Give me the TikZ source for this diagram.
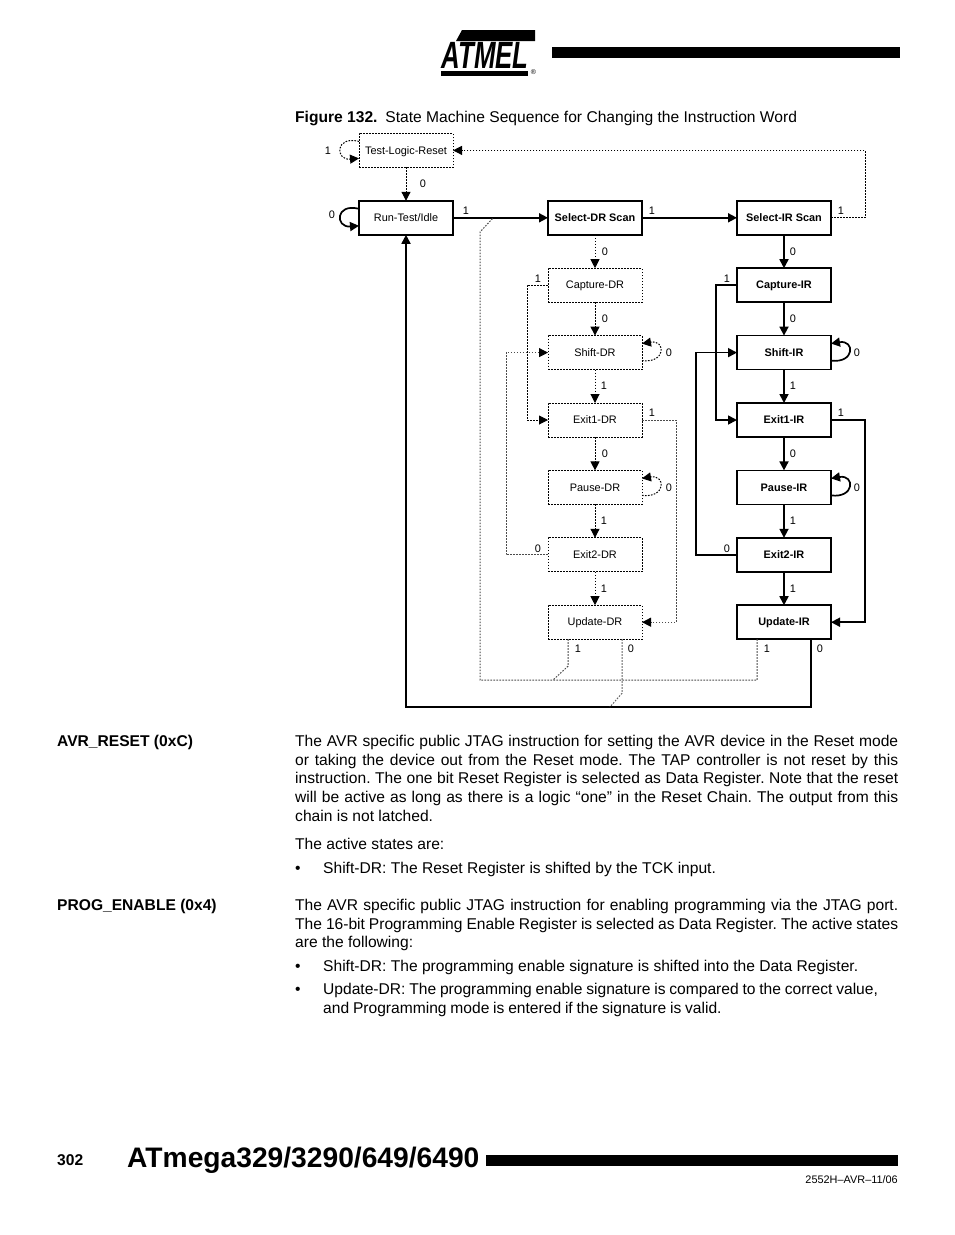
\documentclass[tikz,border=0pt]{standalone}
\usepackage{fontspec}
\setmainfont{Liberation Sans}
\usetikzlibrary{arrows.meta}
\usetikzlibrary{positioning}
\frenchspacing
\tikzstyle{dotstate} = [rectangle, minimum width=94pt, minimum height=34pt, inner sep=0pt, outer sep=0pt, text height=8pt, text depth=0.5pt, text centered, font=\fontsize{10.9}{13}\selectfont, draw=black, line width=1pt, dash pattern=on 1.6pt off 1.4pt]
\tikzstyle{boldstate} = [rectangle, minimum width=94pt, minimum height=34pt, inner sep=0pt, outer sep=0pt, text height=8pt, text depth=0.5pt, text centered, font=\fontsize{10.9}{13}\selectfont\bfseries, draw=black, line width=1.5pt]
\tikzstyle{dotline} = [line width=1pt, dash pattern=on 1.6pt off 1.4pt]
\tikzstyle{boldline} = [line width=1.7pt]
\tikzstyle{bit} = [inner sep=0pt, yshift=-0.7pt, font=\fontsize{10.9}{13}\selectfont]
\tikzstyle{para} = [anchor=north west, inner sep=0pt, text width=603pt, align=justify, font=\fontsize{15.6}{18.7}\selectfont]
\tikzstyle{oneline} = [anchor=base west, inner sep=0pt, font=\fontsize{15.6}{18.7}\selectfont]

\begin{document}
\begin{tikzpicture}[x=1pt, y=1pt, node distance=33.4pt and 95pt, >={Triangle[length=9pt,width=9pt,color=black]}]
\useasboundingbox (0,0) rectangle (954,-1235);

% page header
\fill (462,-30) -- (535,-30) -- (535,-41) -- (456,-41) -- cycle;
\node (logotext) [inner sep=0pt, xscale=0.68, font=\fontsize{38}{38}\selectfont\bfseries\itshape] at (485,-55) {ATMEL};
\fill (441,-71) rectangle (528,-75.5);
\node (regmark) [inner sep=0pt, font=\fontsize{7}{8}\selectfont] at (533.5,-72) {®};
\fill (552,-47) rectangle (900,-58);
\node (figtitle) [oneline] at (295,-122) {\textbf{Figure 132.}\enspace State Machine Sequence for Changing the Instruction Word};

% states
\node (testreset) [dotstate] at (406,-150.4) {Test-Logic-Reset};
\node (runidle) [boldstate, font=\fontsize{10.9}{13}\selectfont\mdseries, below=of testreset] {Run-Test/Idle};
\node (seldr) [boldstate, right=of runidle] {Select-DR Scan};
\node (selir) [boldstate, right=of seldr] {Select-IR Scan};

\node (capdr) [dotstate, below=of seldr] {Capture-DR};
\node (shiftdr) [dotstate, below=of capdr] {Shift-DR};
\node (exitonedr) [dotstate, below=of shiftdr] {Exit1-DR};
\node (pausedr) [dotstate, below=of exitonedr] {Pause-DR};
\node (exittwodr) [dotstate, below=of pausedr] {Exit2-DR};
\node (updatedr) [dotstate, below=of exittwodr] {Update-DR};

\node (capir) [boldstate, below=of selir] {Capture-IR};
\node (shiftir) [boldstate, below=of capir] {Shift-IR};
\node (exitoneir) [boldstate, below=of shiftir] {Exit1-IR};
\node (pauseir) [boldstate, below=of exitoneir] {Pause-IR};
\node (exittwoir) [boldstate, below=of pauseir] {Exit2-IR};
\node (updateir) [boldstate, below=of exittwoir] {Update-IR};

% free ends of the lines that join others
\coordinate (jointop) at (493,-218);
\coordinate (joinmid) at (553,-680);
\coordinate (joinbot) at (610,-707);

% solid connectors
\draw [boldline, ->] (runidle) -- (seldr);
\draw [boldline, ->] (seldr) -- (selir);
\draw [boldline, ->] (selir) -- (capir);
\draw [boldline, ->] (capir) -- (shiftir);
\draw [boldline, ->] (shiftir) -- (exitoneir);
\draw [boldline, ->] (exitoneir) -- (pauseir);
\draw [boldline, ->] (pauseir) -- (exittwoir);
\draw [boldline, ->] (exittwoir) -- (updateir);
\draw [boldline, ->] (capir.west) -- ++(-21,0) |- (exitoneir.west);
\draw [boldline, ->] (exittwoir.west) -- ++(-41,0) |- (shiftir.west);
\draw [boldline, ->] (exitoneir.east) -- ++(34,0) |- (updateir.east);
\draw [boldline, ->] ([xshift=27pt]updateir.south) -- ++(0,-68) -| (runidle.south);
\draw [boldline, ->] ([yshift=9pt]runidle.west) .. controls +(-24,6) and +(-24,-2) .. ([yshift=-8pt]runidle.west);
\draw [boldline, ->] ([yshift=-8pt]shiftir.east) .. controls +(24,-3) and +(24,4) .. ([yshift=9pt]shiftir.east);
\draw [boldline, ->] ([yshift=-8pt]pauseir.east) .. controls +(24,-3) and +(24,4) .. ([yshift=9pt]pauseir.east);

% dotted connectors
\draw [dotline, ->] (testreset) -- (runidle);
\draw [dotline, ->] (seldr) -- (capdr);
\draw [dotline, ->] (capdr) -- (shiftdr);
\draw [dotline, ->] (shiftdr) -- (exitonedr);
\draw [dotline, ->] (exitonedr) -- (pausedr);
\draw [dotline, ->] (pausedr) -- (exittwodr);
\draw [dotline, ->] (exittwodr) -- (updatedr);
\draw [dotline, ->] (capdr.west) -- ++(-21,0) |- (exitonedr.west);
\draw [dotline, black!70, ->] (exittwodr.west) -- ++(-42,0) |- (shiftdr.west);
\draw [dotline, black!70, ->] (exitonedr.east) -- ++(34,0) |- (updatedr.east);
\draw [dotline, ->] (selir.east) -- ++(34,0) |- (testreset.east);
\draw [dotline, ->] ([yshift=9pt]testreset.west) .. controls +(-24,6) and +(-24,-2) .. ([yshift=-8pt]testreset.west);
\draw [dotline, ->] ([yshift=-8pt]shiftdr.east) .. controls +(24,-3) and +(24,4) .. ([yshift=9pt]shiftdr.east);
\draw [dotline, ->] ([yshift=-8pt]pausedr.east) .. controls +(24,-3) and +(24,4) .. ([yshift=9pt]pausedr.east);
\draw [dotline, black!70] ([xshift=-27pt]updateir.south) -- ++(0,-41) -| (480,-232) -- (jointop);
\draw [dotline, black!70] ([xshift=-27pt]updatedr.south) -- ++(0,-27) -- (joinmid);
\draw [dotline, black!60] ([xshift=27pt]updatedr.south) -- ++(0,-54) -- (joinbot);

% bit values
\node (b1) [bit] at (328,-150) {1};
\node (b2) [bit] at (423,-183) {0};
\node (b3) [bit] at (332,-214) {0};
\node (b4) [bit] at (466,-210) {1};
\node (b5) [bit] at (652,-210) {1};
\node (b6) [bit] at (841,-210) {1};
\node (b7) [bit] at (605,-251) {0};
\node (b8) [bit] at (793,-251) {0};
\node (b9) [bit] at (538,-278) {1};
\node (b10) [bit] at (727,-278) {1};
\node (b11) [bit] at (605,-318) {0};
\node (b12) [bit] at (793,-318) {0};
\node (b13) [bit] at (669,-352) {0};
\node (b14) [bit] at (857,-352) {0};
\node (b15) [bit] at (604,-385) {1};
\node (b16) [bit] at (793,-385) {1};
\node (b17) [bit] at (652,-412) {1};
\node (b18) [bit] at (841,-412) {1};
\node (b19) [bit] at (605,-453) {0};
\node (b20) [bit] at (793,-453) {0};
\node (b21) [bit] at (669,-487) {0};
\node (b22) [bit] at (857,-487) {0};
\node (b23) [bit] at (604,-520) {1};
\node (b24) [bit] at (793,-520) {1};
\node (b25) [bit] at (538,-548) {0};
\node (b26) [bit] at (727,-548) {0};
\node (b27) [bit] at (604,-588) {1};
\node (b28) [bit] at (793,-588) {1};
\node (b29) [bit] at (578,-648) {1};
\node (b30) [bit] at (631,-648) {0};
\node (b31) [bit] at (767,-648) {1};
\node (b32) [bit] at (820,-648) {0};

% page text
\node (avrhead) [oneline, font=\fontsize{15.6}{18.7}\selectfont\bfseries] at (57,-746) {AVR\_RESET (0xC)};
\node (avrtext) [para] at (295,-735) {The AVR specific public JTAG instruction for setting the AVR device in the Reset mode or taking the device out from the Reset mode. The TAP controller is not reset by this instruction. The one bit Reset Register is selected as Data Register. Note that the reset will be active as long as there is a logic “one” in the Reset Chain. The output from this chain is not latched.};
\node (activetext) [oneline] at (295,-849) {The active states are:};
\node (dotone) [oneline] at (295,-873) {•};
\node (itemone) [oneline] at (323,-873) {Shift-DR: The Reset Register is shifted by the TCK input.};
\node (proghead) [oneline, font=\fontsize{15.6}{18.7}\selectfont\bfseries] at (57,-910) {PROG\_ENABLE (0x4)};
\node (progtext) [para] at (295,-899) {The AVR specific public JTAG instruction for enabling programming via the JTAG port. The 16-bit Programming Enable Register is selected as Data Register. The active states are the following:};
\node (dottwo) [oneline] at (295,-971) {•};
\node (itemtwo) [oneline] at (323,-971) {Shift-DR: The programming enable signature is shifted into the Data Register.};
\node (dotthree) [oneline] at (295,-994) {•};
\node (itemthree) [para, text width=575pt, align=left] at (323,-983) {\spaceskip=3.8pt\relax Update-DR: The programming enable signature is compared to the correct value, and Programming mode is entered if the signature is valid.};

% page footer
\node (pagenum) [oneline, font=\fontsize{15.6}{18.7}\selectfont\bfseries] at (57,-1165) {302};
\node (chipname) [oneline, font=\fontsize{28.2}{34}\selectfont\bfseries] at (127,-1167) {ATmega329/3290/649/6490};
\fill (486,-1155) rectangle (898,-1165.5);
\node (docnum) [inner sep=0pt, anchor=base east, font=\fontsize{10.9}{13}\selectfont] at (898,-1183) {2552H–AVR–11/06};
\end{tikzpicture}
\end{document}
